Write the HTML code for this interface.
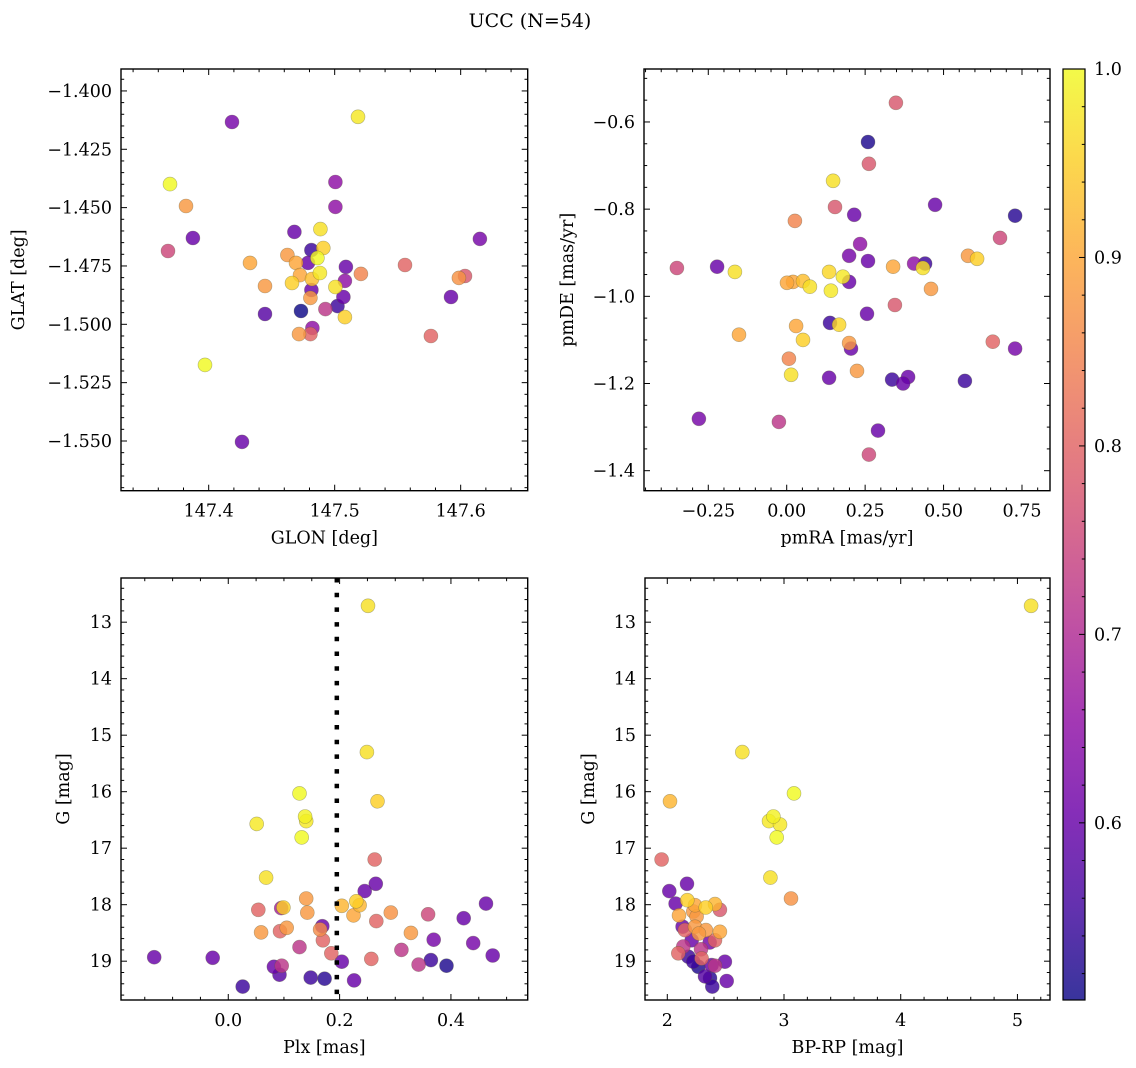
<!DOCTYPE html>
<html><head><meta charset="utf-8"><style>
html,body{margin:0;padding:0;background:#fff;overflow:hidden;}
svg{display:block;font-family:"DejaVu Serif","Liberation Serif",serif;}
</style></head><body>
<svg id="fig" width="1136" height="1068" viewBox="0 0 1136 1068" xmlns="http://www.w3.org/2000/svg">
<text x="530" y="27" font-size="19" text-anchor="middle">UCC (N=54)</text>
</svg>
<script>
// Panel 1 data
const p1Glon=[147.4185,147.5185,147.3693,147.3820,147.3875,147.3677,147.4328,147.4447,147.4447,147.3971,147.4264,147.5006,147.5006,147.4887,147.4680,147.4625,147.4815,147.4910,147.4863,147.4693,147.4788,147.4725,147.4661,147.4820,147.4883,147.5089,147.5208,147.5081,147.5006,147.4815,147.4807,147.5069,147.5022,147.4926,147.4733,147.5081,147.4823,147.4807,147.4717,147.5558,147.5764,147.5923,147.5986,147.6034,147.6153];
const p1Glat=[-1.4133,-1.4111,-1.4399,-1.4493,-1.4630,-1.4686,-1.4737,-1.4836,-1.4956,-1.5174,-1.5504,-1.4390,-1.4497,-1.4592,-1.4604,-1.4703,-1.4682,-1.4673,-1.4716,-1.4737,-1.4737,-1.4789,-1.4823,-1.4806,-1.4780,-1.4754,-1.4784,-1.4814,-1.4840,-1.4853,-1.4887,-1.4883,-1.4922,-1.4935,-1.4943,-1.4969,-1.5016,-1.5042,-1.5042,-1.4746,-1.5050,-1.4883,-1.4801,-1.4793,-1.4634];
const p1Prob=[.62,.98,1,.88,.6,.75,.9,.88,.58,1,.6,.65,.65,.97,.6,.88,.55,.95,1,.9,.6,.9,.95,.93,.98,.6,.85,.65,.97,.6,.88,.6,.55,.72,.5,.95,.65,.8,.88,.8,.8,.6,.87,.78,.62];
// Panel 2 data
const p2Pmra=[0.348,0.259,0.262,0.148,0.154,0.473,0.728,0.026,0.215,0.680,0.234,0.199,0.259,0.406,0.441,0.434,0.339,0.578,0.607,0.135,0.179,0.199,-0.350,-0.222,-0.165,0.020,0.052,0.074,0.141,0.001,0.345,0.460,0.256,0.030,0.138,0.167,0.052,-0.152,0.199,0.205,0.657,0.728,0.007,0.224,0.014,0.135,0.336,0.387,0.371,0.568,-0.280,-0.025,0.291,0.262];
const p2Pmde=[-0.556,-0.646,-0.696,-0.735,-0.795,-0.790,-0.815,-0.827,-0.813,-0.866,-0.880,-0.907,-0.919,-0.925,-0.925,-0.935,-0.932,-0.907,-0.914,-0.944,-0.955,-0.967,-0.935,-0.932,-0.944,-0.967,-0.965,-0.978,-0.987,-0.969,-1.020,-0.983,-1.040,-1.068,-1.061,-1.065,-1.100,-1.088,-1.107,-1.120,-1.104,-1.120,-1.143,-1.171,-1.180,-1.187,-1.191,-1.185,-1.200,-1.194,-1.281,-1.288,-1.308,-1.363];
const p2Prob=[.78,.52,.78,.97,.78,.6,.53,.85,.6,.75,.65,.62,.6,.65,.55,.97,.9,.88,.95,.96,.98,.6,.75,.6,.97,.9,.93,.97,.98,.9,.78,.88,.6,.9,.55,.96,.95,.9,.88,.6,.8,.62,.85,.88,.97,.6,.55,.6,.6,.55,.62,.72,.6,.75];
// Panel 3 data
const p3Plx=[0.249,0.128,0.268,0.051,0.138,0.140,0.132,0.263,0.068,0.265,0.245,0.140,0.463,0.095,0.099,0.054,0.204,0.230,0.236,0.225,0.142,0.292,0.359,0.423,0.266,0.169,0.105,0.165,0.059,0.093,0.328,0.170,0.369,0.440,0.128,0.311,0.185,-0.133,-0.028,0.475,0.204,0.257,0.342,0.364,0.392,0.082,0.096,0.092,0.148,0.173,0.226,0.026,0.251];
const p3G=[15.30,16.03,16.17,16.57,16.44,16.52,16.81,17.20,17.52,17.63,17.76,17.89,17.98,18.06,18.05,18.09,18.02,17.94,18.01,18.19,18.14,18.14,18.17,18.24,18.29,18.38,18.41,18.44,18.49,18.47,18.50,18.63,18.62,18.68,18.75,18.80,18.86,18.93,18.94,18.90,19.01,18.96,19.06,18.98,19.08,19.10,19.08,19.24,19.29,19.31,19.34,19.45,12.71];
const p3Prob=[.97,1,.95,.98,.99,.98,1,.8,.97,.6,.6,.88,.6,.68,.95,.8,.92,.95,.92,.9,.88,.87,.75,.6,.8,.6,.88,.86,.88,.8,.88,.8,.62,.62,.72,.72,.8,.6,.6,.6,.6,.8,.72,.55,.52,.6,.72,.58,.55,.53,.6,.55,.97];
const p3PlxLine=0.195;
// Panel 4 data
const p4Bprp=[2.643,2.023,3.086,2.871,2.909,2.966,2.937,1.951,2.883,3.06,2.169,2.017,2.071,2.171,2.237,2.329,2.409,2.451,2.223,2.1,2.251,2.131,2.237,2.331,2.451,2.151,2.271,2.409,2.209,2.363,2.137,2.289,2.094,2.18,2.294,2.494,2.409,2.266,2.38,2.323,2.366,2.509,2.386,2.223,5.117];
const p4G=[15.30,16.17,16.03,16.52,16.44,16.58,16.81,17.20,17.52,17.89,17.63,17.76,17.98,17.92,18.01,18.05,17.99,18.09,18.12,18.19,18.21,18.39,18.39,18.45,18.48,18.45,18.51,18.63,18.63,18.67,18.74,18.79,18.86,18.92,18.95,19.01,19.08,19.10,19.07,19.27,19.30,19.35,19.45,19.01,12.71];
const p4Prob=[.97,.92,1,.98,.99,.98,1,.8,.97,.87,.6,.6,.6,.95,.9,.95,.92,.78,.88,.9,.88,.6,.88,.88,.9,.8,.88,.8,.6,.62,.72,.72,.8,.55,.8,.6,.72,.52,.6,.58,.53,.6,.55,.55,.97];
// tick labels
const p1XTicks=[147.4,147.5,147.6];
const p1YTicks=[-1.400,-1.425,-1.450,-1.475,-1.500,-1.525,-1.550];
const p2XTicks=[-0.25,0.00,0.25,0.50,0.75];
const p2YTicks=[-0.6,-0.8,-1.0,-1.2,-1.4];
const p3XTicks=[0.0,0.2,0.4];
const gTicks=[13,14,15,16,17,18,19];
const p4XTicks=[2,3,4,5];
const cbTicks=[0.6,0.7,0.8,0.9,1.0];
const cbMin=0.506, cbMax=1.0;

const NS="http://www.w3.org/2000/svg";
const svg=document.getElementById('fig');
function mk(tag,attrs,parent){const e=document.createElementNS(NS,tag);for(const k in attrs)e.setAttribute(k,attrs[k]);(parent||svg).appendChild(e);return e;}
const plasma=[[13,8,135],[65,4,157],[106,0,168],[143,13,164],[177,42,144],[204,71,120],[225,100,98],[242,132,75],[252,166,54],[252,206,37],[240,249,33]];
function cmap(t){t=Math.max(0,Math.min(1,t));const f=t*10,i=Math.min(9,Math.floor(f)),r=f-i;const a=plasma[i],b=plasma[i+1];return `rgb(${Math.round(a[0]+(b[0]-a[0])*r)},${Math.round(a[1]+(b[1]-a[1])*r)},${Math.round(a[2]+(b[2]-a[2])*r)})`;}
function fmt(v,d){return (v<0?'\u2212':'')+Math.abs(v).toFixed(d);}
const FS=17.5;

function panel(o){
  const g=mk('g',{});
  
  
  const sx=v=>o.x0+(v-o.xmin)/(o.xmax-o.xmin)*(o.x1-o.x0);
  const sy=o.invert ? (v=>o.y0+(v-o.ymin)/(o.ymax-o.ymin)*(o.y1-o.y0)) : (v=>o.y1-(v-o.ymin)/(o.ymax-o.ymin)*(o.y1-o.y0));
  const clip=mk('clipPath',{id:'c'+o.name},g);
  mk('rect',{x:o.x0,y:o.y0,width:o.x1-o.x0,height:o.y1-o.y0},clip);
  const pts=mk('g',{'clip-path':`url(#c${o.name})`},g);
  const idx=o.xs.map((_,i)=>i).sort((a,b)=>o.ps[a]-o.ps[b]);
  idx.forEach(i=>{
    const c=mk('circle',{cx:sx(o.xs[i]).toFixed(1),cy:sy(o.ys[i]).toFixed(1),r:7,fill:cmap((o.ps[i]-cbMin)/(cbMax-cbMin)),'fill-opacity':0.82,stroke:'rgba(90,90,60,0.45)','stroke-width':0.6},pts);
    
    
  });
  if(o.vline!==undefined){
    const l=mk('line',{x1:sx(o.vline),x2:sx(o.vline),y1:o.y0,y2:o.y1,stroke:'#000','stroke-width':4.5,'stroke-dasharray':'4.5 10.2'},pts);
    
    
  }
  const tk=mk('g',{stroke:'#000','stroke-width':1},g);
  const eps=1e-9;
  for(let k=Math.ceil(o.xmin/o.xminor-eps); k*o.xminor<=o.xmax+eps; k++){
    const v=k*o.xminor;const x=sx(v);const major=Math.abs(v/o.xmajor-Math.round(v/o.xmajor))<1e-6;const L=major?6:3.2;
    mk('line',{x1:x,x2:x,y1:o.y1,y2:o.y1-L},tk);mk('line',{x1:x,x2:x,y1:o.y0,y2:o.y0+L},tk);
  }
  for(let k=Math.ceil(o.ymin/o.yminor-eps); k*o.yminor<=o.ymax+eps; k++){
    const v=k*o.yminor;const y=sy(v);const major=Math.abs(v/o.ymajor-Math.round(v/o.ymajor))<1e-6;const L=major?6:3.2;
    mk('line',{x1:o.x0,x2:o.x0+L,y1:y,y2:y},tk);mk('line',{x1:o.x1,x2:o.x1-L,y1:y,y2:y},tk);
  }
  const fr=mk('rect',{x:o.x0,y:o.y0,width:o.x1-o.x0,height:o.y1-o.y0,fill:'none',stroke:'#000','stroke-width':1.4},g);
  
  
  o.xt.forEach(v=>{const t=mk('text',{x:sx(v),y:o.y1+26,'font-size':FS,'text-anchor':'middle'},g);t.textContent=fmt(v,o.xd);
    });
  o.yt.forEach(v=>{const t=mk('text',{x:o.x0-9,y:sy(v)+6,'font-size':FS,'text-anchor':'end'},g);t.textContent=fmt(v,o.yd);
    });
  const xl=mk('text',{x:(o.x0+o.x1)/2,y:o.y1+53,'font-size':FS,'text-anchor':'middle'},g);xl.textContent=o.xlabel;
  
  const yl=mk('text',{x:0,y:0,'font-size':FS,'text-anchor':'middle',transform:`translate(${o.ylx},${(o.y0+o.y1)/2}) rotate(-90)`},g);yl.textContent=o.ylabel;
  
}

panel({name:'glon-glat-panel',x0:121,x1:527.7,y0:69,y1:490.7,xmin:147.3304,xmax:147.6532,ymin:-1.5713,ymax:-1.3906,xs:p1Glon,ys:p1Glat,ps:p1Prob,
  xmajor:0.1,xminor:0.02,ymajor:0.025,yminor:0.005,xt:p1XTicks,yt:p1YTicks,xd:1,yd:3,xlabel:'GLON [deg]',ylabel:'GLAT [deg]',ylx:24});
panel({name:'pm-panel',x0:644,x1:1050,y0:69,y1:490.7,xmin:-0.4549,xmax:0.8393,ymin:-1.4459,ymax:-0.4785,xs:p2Pmra,ys:p2Pmde,ps:p2Prob,
  xmajor:0.25,xminor:0.05,ymajor:0.2,yminor:0.05,xt:p2XTicks,yt:p2YTicks,xd:2,yd:1,xlabel:'pmRA [mas/yr]',ylabel:'pmDE [mas/yr]',ylx:573});
panel({name:'plx-g-panel',x0:121,x1:527.7,y0:578,y1:1000,xmin:-0.1927,xmax:0.5379,ymin:12.218,ymax:19.687,invert:true,xs:p3Plx,ys:p3G,ps:p3Prob,vline:p3PlxLine,
  xmajor:0.2,xminor:0.05,ymajor:1,yminor:0.2,xt:p3XTicks,yt:gTicks,xd:1,yd:0,xlabel:'Plx [mas]',ylabel:'G [mag]',ylx:69});
panel({name:'cmd-panel',x0:645,x1:1050,y0:578,y1:1000,xmin:1.809,xmax:5.279,ymin:12.218,ymax:19.687,invert:true,xs:p4Bprp,ys:p4G,ps:p4Prob,
  xmajor:1,xminor:0.2,ymajor:1,yminor:0.2,xt:p4XTicks,yt:gTicks,xd:0,yd:0,xlabel:'BP-RP [mag]',ylabel:'G [mag]',ylx:594});

(function(){
  const cb=mk('g',{});
  
  
  const x0=1063,x1=1085,y0=69,y1=1000;
  const defs=mk('defs',{},cb);
  const lg=mk('linearGradient',{id:'cbg',x1:0,y1:1,x2:0,y2:0},defs);
  for(let i=0;i<=20;i++){mk('stop',{offset:(i/20),'stop-color':cmap(i/20)},lg);}
  mk('rect',{x:x0,y:y0,width:x1-x0,height:y1-y0,fill:'url(#cbg)','fill-opacity':0.82},cb);
  const sy=v=>y1-(v-cbMin)/(cbMax-cbMin)*(y1-y0);
  for(let k=26;k<=50;k++){const v=k*0.02;const y=sy(v);const major=(k%5===0);
    mk('line',{x1:x1,x2:x1-(major?6:3.2),y1:y,y2:y,stroke:'#000','stroke-width':1},cb);}
  mk('rect',{x:x0,y:y0,width:x1-x0,height:y1-y0,fill:'none',stroke:'#000','stroke-width':1.2},cb);
  cbTicks.forEach(v=>{const t=mk('text',{x:x1+9,y:sy(v)+6,'font-size':FS},cb);t.textContent=v.toFixed(1);
    });
})();
</script>
</body></html>
